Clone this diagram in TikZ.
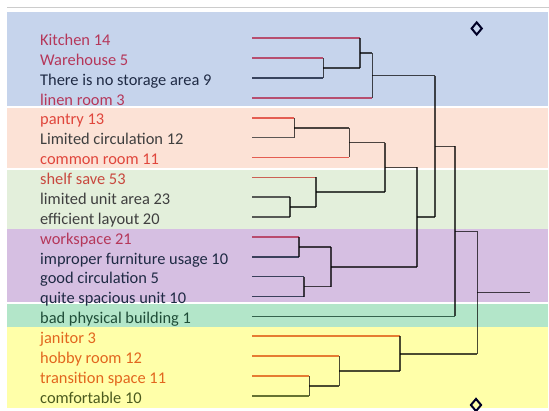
\documentclass[tikz,border=0pt]{standalone}
\usepackage{fontspec}
\setmainfont{Carlito}
\usetikzlibrary{shapes.geometric}
\definecolor{bandblue}{HTML}{C6D4EC}
\definecolor{bandpink}{HTML}{FCE2D6}
\definecolor{bandgreen}{HTML}{E3EFDB}
\definecolor{bandpurple}{HTML}{D6BFE2}
\definecolor{bandteal}{HTML}{B3E6C9}
\definecolor{bandyellow}{HTML}{FFFFA9}
\definecolor{crim}{HTML}{B5375A}
\definecolor{navy}{HTML}{1F2A44}
\definecolor{redc}{HTML}{E0463C}
\definecolor{rust}{HTML}{C8483E}
\definecolor{gry}{HTML}{3F3F3F}
\definecolor{bgreen}{HTML}{1F4D38}
\definecolor{orng}{HTML}{E2661E}
\definecolor{olive}{HTML}{4B5A1E}
\tikzset{
  lbl/.style={anchor=base west, inner sep=0pt, font=\fontsize{16.4}{18}\selectfont},
  leaf/.style={line width=1.6pt, opacity=.85},
  tree/.style={line width=1.6pt, draw=black, opacity=.7},
  diam/.style={diamond, draw=black!85!blue, line width=2pt, minimum width=11pt, minimum height=13pt, inner sep=0pt}
}
\begin{document}
\begin{tikzpicture}[x=1pt,y=-1pt]
\useasboundingbox (0,0) rectangle (549,411);
\clip (0,0) rectangle (549,411);
% bands
\draw[black!20, line width=1.5pt] (7,7.5) -- (549,7.5);
\fill[bandblue] (7,12.5) rectangle (548,106.5);
\fill[bandpink] (7,108.5) rectangle (548,167.8);
\fill[bandgreen] (7,169.8) rectangle (548,229);
\fill[bandpurple] (7,229) rectangle (548,302.3);
\fill[bandteal] (7,304.3) rectangle (548,327);
\fill[bandyellow] (7,327) rectangle (548,408.5);
% leaves
\coordinate (kit) at (252,38.3);
\coordinate (war) at (252,58.2);
\coordinate (nos) at (252,78.0);
\coordinate (lin) at (252,97.9);
\coordinate (pan) at (252,117.8);
\coordinate (lci) at (252,137.7);
\coordinate (com) at (252,157.5);
\coordinate (she) at (252,177.4);
\coordinate (lua) at (252,197.3);
\coordinate (eff) at (252,217.1);
\coordinate (wor) at (252,237.0);
\coordinate (imp) at (252,256.9);
\coordinate (goo) at (252,276.7);
\coordinate (qui) at (252,296.6);
\coordinate (bad) at (252,316.5);
\coordinate (jan) at (252,336.3);
\coordinate (hob) at (252,356.2);
\coordinate (tra) at (252,376.1);
\coordinate (cmf) at (252,396.0);
% labels
\node[lbl, text=crim] (t-kit) at (40,45.5) {Kitchen 14};
\node[lbl, text=crim] (t-war) at (40,65.4) {Warehouse 5};
\node[lbl, text=navy] (t-nos) at (40,85.2) {There is no storage area 9};
\node[lbl, text=crim] (t-lin) at (40,105.1) {linen room 3};
\node[lbl, text=redc] (t-pan) at (40,125.0) {pantry 13};
\node[lbl, text=gry] (t-lci) at (40,144.9) {Limited circulation 12};
\node[lbl, text=redc] (t-com) at (40,164.7) {common room 11};
\node[lbl, text=rust] (t-she) at (40,184.6) {shelf save 53};
\node[lbl, text=gry] (t-lua) at (40,204.5) {limited unit area 23};
\node[lbl, text=gry] (t-eff) at (40,224.3) {efficient layout 20};
\node[lbl, text=crim] (t-wor) at (40,244.2) {workspace 21};
\node[lbl, text=navy] (t-imp) at (40,264.1) {improper furniture usage 10};
\node[lbl, text=navy] (t-goo) at (40,283.9) {good circulation 5};
\node[lbl, text=navy] (t-qui) at (40,303.8) {quite spacious unit 10};
\node[lbl, text=bgreen] (t-bad) at (40,323.7) {bad physical building 1};
\node[lbl, text=orng] (t-jan) at (40,343.5) {janitor 3};
\node[lbl, text=orng] (t-hob) at (40,363.4) {hobby room 12};
\node[lbl, text=orng] (t-tra) at (40,383.3) {transition space 11};
\node[lbl, text=olive] (t-cmf) at (40,403.2) {comfortable 10};
% merge points
\coordinate (m1) at (323.3,68.1);
\coordinate (m2) at (360,53.2);
\coordinate (m3) at (372.3,75.6);
\coordinate (m4) at (294.3,127.8);
\coordinate (m5) at (349.3,142.7);
\coordinate (m6) at (290,207.2);
\coordinate (m7) at (316,192.3);
\coordinate (m8) at (385,167.5);
\coordinate (m9) at (299,247);
\coordinate (m10) at (304,286.7);
\coordinate (m11) at (331,266.9);
\coordinate (m12) at (416.7,217.2);
\coordinate (m13) at (435,146.4);
\coordinate (m14) at (455,231.5);
\coordinate (m15) at (309.3,386.1);
\coordinate (m16) at (339.3,371.2);
\coordinate (m17) at (400,353.8);
\coordinate (m18) at (477.3,292.7);
\coordinate (rt) at (530,292.7);
% blue cluster
\draw[leaf, crim] (war) -- (war -| m1);
\draw[leaf, navy] (nos) -- (nos -| m1);
\draw[tree] (war -| m1) -- (nos -| m1);
\draw[leaf, crim] (kit) -- (kit -| m2);
\draw[tree] (m1) -- (m1 -| m2);
\draw[tree] (kit -| m2) -- (m1 -| m2);
\draw[leaf, crim] (lin) -- (lin -| m3);
\draw[tree] (m2) -- (m2 -| m3);
\draw[tree] (m2 -| m3) -- (lin -| m3);
% pink cluster
\draw[leaf, redc] (pan) -- (pan -| m4);
\draw[leaf, gry] (lci) -- (lci -| m4);
\draw[tree] (pan -| m4) -- (lci -| m4);
\draw[leaf, redc] (com) -- (com -| m5);
\draw[tree] (m4) -- (m4 -| m5);
\draw[tree] (m4 -| m5) -- (com -| m5);
% green cluster
\draw[leaf, gry] (lua) -- (lua -| m6);
\draw[leaf, gry] (eff) -- (eff -| m6);
\draw[tree] (lua -| m6) -- (eff -| m6);
\draw[leaf, rust] (she) -- (she -| m7);
\draw[tree] (m6) -- (m6 -| m7);
\draw[tree] (she -| m7) -- (m6 -| m7);
\draw[tree] (m5) -- (m5 -| m8);
\draw[tree] (m7) -- (m7 -| m8);
\draw[tree] (m5 -| m8) -- (m7 -| m8);
% purple cluster
\draw[leaf, crim] (wor) -- (wor -| m9);
\draw[leaf, navy] (imp) -- (imp -| m9);
\draw[tree] (wor -| m9) -- (imp -| m9);
\draw[leaf, navy] (goo) -- (goo -| m10);
\draw[leaf, navy] (qui) -- (qui -| m10);
\draw[tree] (goo -| m10) -- (qui -| m10);
\draw[tree] (m9) -- (m9 -| m11);
\draw[tree] (m10) -- (m10 -| m11);
\draw[tree] (m9 -| m11) -- (m10 -| m11);
\draw[tree] (m8) -- (m8 -| m12);
\draw[tree] (m11) -- (m11 -| m12);
\draw[tree] (m8 -| m12) -- (m11 -| m12);
\draw[tree] (m3) -- (m3 -| m13);
\draw[tree] (m12) -- (m12 -| m13);
\draw[tree] (m3 -| m13) -- (m12 -| m13);
\draw[leaf, bgreen] (bad) -- (bad -| m14);
\draw[tree] (m13) -- (m13 -| m14);
\draw[tree] (m13 -| m14) -- (bad -| m14);
% yellow cluster
\draw[leaf, orng] (tra) -- (tra -| m15);
\draw[leaf, olive] (cmf) -- (cmf -| m15);
\draw[tree] (tra -| m15) -- (cmf -| m15);
\draw[leaf, orng] (hob) -- (hob -| m16);
\draw[tree] (m15) -- (m15 -| m16);
\draw[tree] (hob -| m16) -- (m15 -| m16);
\draw[leaf, orng] (jan) -- (jan -| m17);
\draw[tree] (m16) -- (m16 -| m17);
\draw[tree] (jan -| m17) -- (m16 -| m17);
% root
\draw[tree] (m14) -- (m14 -| m18);
\draw[tree] (m17) -- (m17 -| m18);
\draw[tree] (m14 -| m18) -- (m17 -| m18);
\draw[tree] (m18) -- (rt);
% markers
\node[diam] (dtop) at (476.7,28.5) {};
\node[diam] (dbot) at (476,405) {};
\end{tikzpicture}
\end{document}
